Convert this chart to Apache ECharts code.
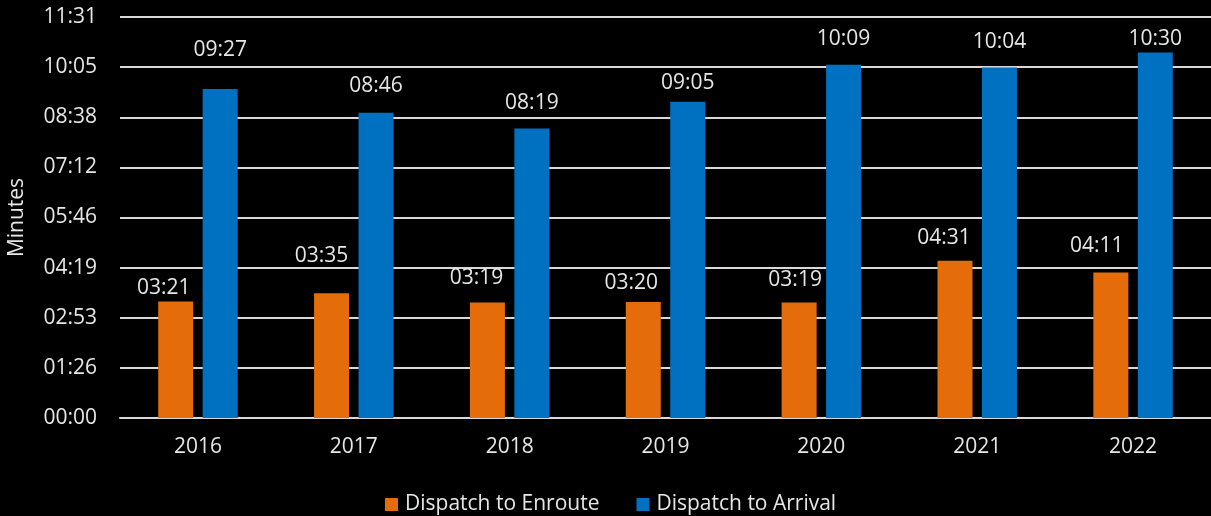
<!DOCTYPE html>
<html><head><meta charset="utf-8">
<script src="https://cdn.jsdelivr.net/npm/echarts@6/dist/echarts.min.js"></script>
<style>html,body{margin:0;padding:0;background:#000;}#c{width:1211px;height:516px;}</style>
</head><body><div id="c"></div>
<script>
const categories = ['2016','2017','2018','2019','2020','2021','2022'];
const enrouteLabels = ['03:21','03:35','03:19','03:20','03:19','04:31','04:11'];
const arrivalLabels = ['09:27','08:46','08:19','09:05','10:09','10:04','10:30'];
const seriesNames = ['Dispatch to Enroute','Dispatch to Arrival'];
// label placement (as in the reference, labels were nudged individually)
const enrouteLabelDist = [3, 27, 14, 8, 12, 12, 16];
const enrouteLabelDx = [-12, -10, -11, -12, -4, -11, -14];
const arrivalLabelDist = [29, 16, 15, 8, 15, 15, 3];

function toSec(s){const p=s.split(':');return (+p[0])*60+(+p[1]);}
function fmt(v){const t=Math.round(v);const m=Math.floor(t/60),s=t%60;return String(m).padStart(2,'0')+':'+String(s).padStart(2,'0');}
const enroute = enrouteLabels.map(toSec);
const arrival = arrivalLabels.map(toSec);
const font = 'Open Sans';
const txt = '#e6e6e6';
const fs = 21;
const chart = echarts.init(document.getElementById('c'));
chart.setOption({
  backgroundColor:'#000',
  animation:false,
  grid:{left:120,right:0,top:17,bottom:98,containLabel:false,outerBoundsMode:'none'},
  legend:{top:489,left:380,itemWidth:13,itemHeight:13,itemGap:37,icon:'rect',
    textStyle:{color:txt,fontSize:fs,fontFamily:font,padding:[0,0,0,2]},data:seriesNames},
  xAxis:{type:'category',data:categories,
    axisLine:{lineStyle:{color:'#d9d9d9',width:2}},axisTick:{show:false},
    axisLabel:{color:txt,fontSize:fs,fontFamily:font,margin:19}},
  yAxis:{type:'value',min:0,max:691.2,interval:86.4,name:'Minutes',nameLocation:'middle',nameGap:92,
    nameTextStyle:{color:txt,fontSize:fs,fontFamily:font},
    axisLine:{show:false},axisTick:{show:false},
    splitLine:{lineStyle:{color:'#d9d9d9',width:2}},
    axisLabel:{color:txt,fontSize:fs,fontFamily:font,margin:23,formatter:fmt}},
  series:[
    {name:seriesNames[0],type:'bar',barWidth:35,barGap:'27%',itemStyle:{color:'#E46C0A'},
     data:enroute.map((v,i)=>({value:v,label:{distance:enrouteLabelDist[i],offset:[enrouteLabelDx[i],0]}})),
     label:{show:true,position:'top',color:txt,fontSize:fs,fontFamily:font,formatter:p=>fmt(p.value)}},
    {name:seriesNames[1],type:'bar',barWidth:35,itemStyle:{color:'#0070C0'},
     data:arrival.map((v,i)=>({value:v,label:{distance:arrivalLabelDist[i]}})),
     label:{show:true,position:'top',color:txt,fontSize:fs,fontFamily:font,formatter:p=>fmt(p.value)}}
  ]
});
</script></body></html>
